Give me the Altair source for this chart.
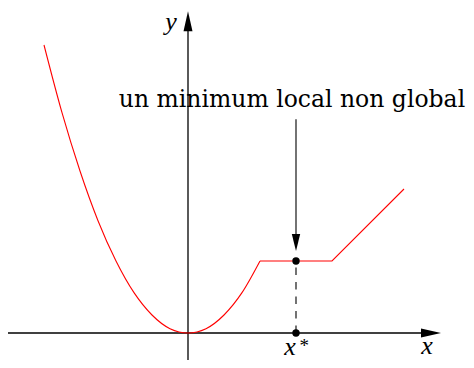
import altair as alt
import pandas as pd

# red curve: parabola part
para_x = [-2, -1.75, -1.5, -1.25, -1, -0.75, -0.5, -0.25, 0, 0.25, 0.5, 0.75, 1]
para_y = [4, 3.06, 2.25, 1.56, 1, 0.56, 0.25, 0.06, 0, 0.06, 0.25, 0.56, 1]
# red curve: piecewise linear part
seg_x = [1, 2, 3]
seg_y = [1, 1, 2]

# local minimum point
xstar = 1.5
ystar = 1.0

# axes extents
x_min, x_max = -2.5, 3.5
y_min, y_max = -0.5, 4.47

# annotation arrow
arrow_top = 2.97
arrow_tip = 1.14

annot_text = "un minimum local non global"
annot_x = 1.444
annot_y = 3.14

W, H = 458, 352
UNIT = 72
xdom = [x_min, x_min + W / UNIT]
ydom = [-27 / UNIT, 325 / UNIT]

xs = alt.Scale(domain=xdom, nice=False, zero=False)
ys = alt.Scale(domain=ydom, nice=False, zero=False)


def X(f="x"):
    return alt.X(f"{f}:Q", scale=xs, axis=None)


def Y(f="y"):
    return alt.Y(f"{f}:Q", scale=ys, axis=None)


para = pd.DataFrame({"x": para_x, "y": para_y, "o": range(len(para_x))})
seg = pd.DataFrame({"x": seg_x, "y": seg_y, "o": range(len(seg_x))})

# axes lines
xaxis = alt.Chart(pd.DataFrame({"x": [x_min], "x2": [x_max - 0.2], "y": [0]})).mark_rule(
    color="black", strokeWidth=1.3).encode(x=X(), x2="x2:Q", y=Y())
yaxis = alt.Chart(pd.DataFrame({"y": [y_min], "y2": [y_max - 0.2], "x": [0]})).mark_rule(
    color="black", strokeWidth=1.3).encode(x=X(), y=Y(), y2="y2:Q")

up_head = "M0,0 L0.45,2 L-0.45,2 Z"
right_head = "M0,0 L-2,-0.45 L-2,0.45 Z"
down_head = "M0,0 L-0.42,-1.7 L0.42,-1.7 Z"

yhead = alt.Chart(pd.DataFrame({"x": [0], "y": [y_max]})).mark_point(
    shape=up_head, size=400, filled=True, color="black", opacity=1, strokeWidth=0
).encode(x=X(), y=Y())
xhead = alt.Chart(pd.DataFrame({"x": [x_max + 0.014], "y": [0]})).mark_point(
    shape=right_head, size=400, filled=True, color="black", opacity=1, strokeWidth=0
).encode(x=X(), y=Y())

para_line = alt.Chart(para).mark_line(color="red", strokeWidth=1.1, interpolate="monotone").encode(
    x=X(), y=Y(), order="o:Q")
seg_line = alt.Chart(seg).mark_line(color="red", strokeWidth=1.1).encode(
    x=X(), y=Y(), order="o:Q")

dash = alt.Chart(pd.DataFrame({"x": [xstar], "y": [0], "y2": [ystar]})).mark_rule(
    color="black", strokeWidth=1.1, strokeDash=[7.5, 7]).encode(x=X(), y=Y(), y2="y2:Q")

dots = alt.Chart(pd.DataFrame({"x": [xstar, xstar], "y": [ystar, 0]})).mark_circle(
    color="black", size=55, opacity=1).encode(x=X(), y=Y())

shaft = alt.Chart(pd.DataFrame({"x": [xstar], "y": [arrow_top], "y2": [arrow_tip + 0.15]})).mark_rule(
    color="black", strokeWidth=1.1).encode(x=X(), y=Y(), y2="y2:Q")
dhead = alt.Chart(pd.DataFrame({"x": [xstar], "y": [arrow_tip]})).mark_point(
    shape=down_head, size=400, filled=True, color="black", opacity=1, strokeWidth=0
).encode(x=X(), y=Y())

annot = alt.Chart(pd.DataFrame({"x": [annot_x], "y": [annot_y], "t": [annot_text]})).mark_text(
    font="DejaVu Serif", fontSize=23.5, align="center", baseline="alphabetic", color="black"
).encode(x=X(), y=Y(), text="t:N")

labels = pd.DataFrame({
    "x": [-0.236, 3.32, 1.417],
    "y": [4.21, -0.29, -0.30],
    "t": ["y", "x", "x"],
})
lab = alt.Chart(labels).mark_text(
    font="Liberation Serif", fontSize=26, fontStyle="italic", align="center",
    baseline="alphabetic", color="black"
).encode(x=X(), y=Y(), text="t:N")

star = alt.Chart(pd.DataFrame({"x": [1.615], "y": [-0.265], "t": ["*"]})).mark_text(
    font="Liberation Serif", fontSize=19, align="center", baseline="alphabetic", color="black"
).encode(x=X(), y=Y(), text="t:N")

chart = alt.layer(
    xaxis, yaxis, yhead, xhead, para_line, seg_line, dash, shaft, dhead, dots, annot, lab, star
).properties(width=W, height=H, padding=0, autosize="none").configure_view(stroke=None)

chart.save("out.html", embed_options={"renderer": "svg", "actions": False})
